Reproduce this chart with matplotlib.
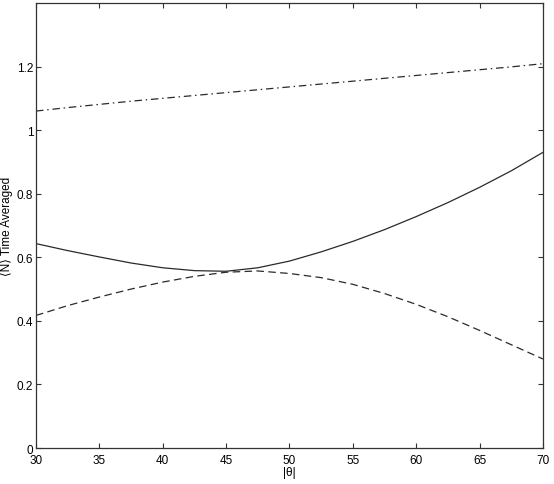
import numpy as np
import matplotlib
matplotlib.use('Agg')
import matplotlib.pyplot as plt

plt.rcParams['font.family'] = ['Liberation Sans', 'DejaVu Sans']

# data
theta = [30, 32.5, 35, 37.5, 40, 42.5, 45, 47.5, 50, 52.5, 55, 57.5, 60, 62.5, 65, 67.5, 70]
n_solid = [0.643, 0.621, 0.601, 0.582, 0.567, 0.558, 0.556, 0.567, 0.588, 0.617, 0.650,
           0.687, 0.728, 0.772, 0.820, 0.872, 0.930]
n_dashed = [0.417, 0.448, 0.475, 0.500, 0.522, 0.540, 0.553, 0.557, 0.549, 0.536, 0.515,
            0.486, 0.452, 0.413, 0.370, 0.325, 0.280]
n_dashdot = [1.060, 1.071, 1.081, 1.091, 1.100, 1.109, 1.118, 1.127, 1.136, 1.145, 1.154,
             1.163, 1.172, 1.181, 1.190, 1.199, 1.209]

xticks = [30, 35, 40, 45, 50, 55, 60, 65, 70]
yticks = [0, 0.2, 0.4, 0.6, 0.8, 1, 1.2]
ytick_labels = ['0', '0.2', '0.4', '0.6', '0.8', '1', '1.2']

fig = plt.figure(figsize=(5.54, 4.85), dpi=100)
ax = fig.add_axes([0.065, 0.0742, 0.915, 0.9176])

lc = '#2a2a2a'
ax.plot(theta, n_solid, color=lc, linewidth=0.9, linestyle='-')
ax.plot(theta, n_dashed, color=lc, linewidth=0.9, linestyle=(0, (6, 3.5)))
ax.plot(theta, n_dashdot, color=lc, linewidth=0.9, linestyle=(0, (6, 3, 1.2, 3)))

ax.set_xlim(30, 70)
ax.set_ylim(0, 1.4)
ax.set_xticks(xticks)
ax.set_xticklabels([str(t) for t in xticks])
ax.set_yticks(yticks)
ax.set_yticklabels(ytick_labels)

ax.tick_params(direction='in', length=3.6, width=0.8, top=True, right=True,
               labelsize=8.5, pad=2, color='#333333')
ax.tick_params(axis='x', pad=4)
for s in ax.spines.values():
    s.set_linewidth(0.9)
    s.set_color('#333333')

ax.set_xlabel('|θ|', fontsize=8.5, labelpad=0)
ax.set_ylabel('⟨N⟩ Time Averaged', fontsize=8.5, labelpad=3)

fig.savefig('out.png', dpi=100)
